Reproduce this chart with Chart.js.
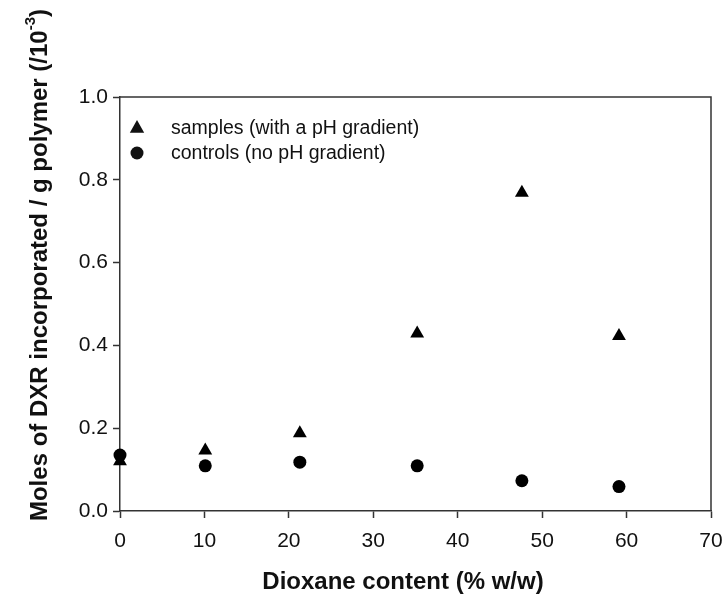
<!DOCTYPE html>
<html>
<head>
<meta charset="utf-8">
<script src="https://cdn.jsdelivr.net/npm/chart.js@4/dist/chart.umd.min.js"></script>
<style>
  html, body { margin: 0; padding: 0; background: #fff; }
</style>
</head>
<body>
<canvas id="myChart" width="726" height="595"></canvas>
<script>
// values
const dioxane = [0, 10.1, 21.3, 35.2, 47.6, 59.1];
const samples = [0.120, 0.146, 0.188, 0.429, 0.769, 0.423];
const controls = [0.135, 0.109, 0.118, 0.109, 0.073, 0.059];
const seriesNames = ['samples (with a pH gradient)', 'controls (no pH gradient)'];
const xTicks = [0, 10, 20, 30, 40, 50, 60, 70];
const yTicks = [0.0, 0.2, 0.4, 0.6, 0.8, 1.0];
const xTitle = 'Dioxane content (% w/w)';
const yTitle = ['Moles of DXR incorporated / g polymer (/10', '-3', ')'];

const FONT = "'Liberation Sans', Arial, Helvetica, sans-serif";
const INK = '#111';
const LINE = '#333';

function pts(ys) {
  return dioxane.map((x, i) => ({ x: x, y: ys[i] }));
}

// box round the plot, custom legend, axis titles
const extras = {
  id: 'extras',
  beforeDatasetsDraw(chart) {
    const a = chart.chartArea;
    const ctx = chart.ctx;
    ctx.save();
    ctx.strokeStyle = LINE;
    ctx.lineWidth = 1.5;
    ctx.beginPath();
    ctx.moveTo(a.left, a.top);
    ctx.lineTo(a.right, a.top);
    ctx.lineTo(a.right, a.bottom);
    ctx.stroke();
    ctx.restore();
  },
  afterDraw(chart) {
    const ctx = chart.ctx;
    const a = chart.chartArea;
    ctx.save();
    ctx.fillStyle = INK;

    // legend (samples first, then controls)
    const order = [1, 0];
    ctx.font = '19.5px ' + FONT;
    ctx.textBaseline = 'middle';
    ctx.textAlign = 'left';
    order.forEach((di, row) => {
      const ds = chart.data.datasets[di];
      const cx = a.left + 17;
      const cy = a.top + 31 + row * 25;
      ctx.beginPath();
      if (ds.pointStyle === 'triangle') {
        const r = 8;
        ctx.moveTo(cx, cy - r);
        ctx.lineTo(cx + r * 0.9, cy + r * 0.6);
        ctx.lineTo(cx - r * 0.9, cy + r * 0.6);
        ctx.closePath();
      } else {
        ctx.arc(cx, cy, 6.5, 0, Math.PI * 2);
      }
      ctx.fill();
      ctx.fillText(ds.label, a.left + 51, cy + 1);
    });

    // x title
    ctx.font = 'bold 24px ' + FONT;
    ctx.textAlign = 'center';
    ctx.fillText(xTitle, 403, 582);

    // y title with superscript
    ctx.translate(40, 265);
    ctx.rotate(-Math.PI / 2);
    ctx.textAlign = 'left';
    const mainFont = 'bold 24px ' + FONT;
    const supFont = 'bold 15px ' + FONT;
    ctx.font = mainFont;
    const w1 = ctx.measureText(yTitle[0]).width;
    const w3 = ctx.measureText(yTitle[2]).width;
    ctx.font = supFont;
    const w2 = ctx.measureText(yTitle[1]).width;
    let x0 = -(w1 + w2 + w3) / 2;
    ctx.font = mainFont;
    ctx.fillText(yTitle[0], x0, 0);
    ctx.font = supFont;
    ctx.fillText(yTitle[1], x0 + w1, -9);
    ctx.font = mainFont;
    ctx.fillText(yTitle[2], x0 + w1 + w2, 0);
    ctx.restore();
  }
};

const ctx = document.getElementById('myChart').getContext('2d');
const myChart = new Chart(ctx, {
  type: 'scatter',
  data: {
    datasets: [
      {
        label: seriesNames[1],
        data: pts(controls),
        pointStyle: 'circle',
        pointRadius: 6.5,
        pointHoverRadius: 6.5,
        backgroundColor: '#000',
        borderColor: '#000',
        borderWidth: 0,
        clip: false
      },
      {
        label: seriesNames[0],
        data: pts(samples),
        pointStyle: 'triangle',
        pointRadius: 8,
        pointHoverRadius: 8,
        backgroundColor: '#000',
        borderColor: '#000',
        borderWidth: 0,
        clip: false
      }
    ]
  },
  options: {
    responsive: false,
    animation: false,
    devicePixelRatio: 1,
    layout: { padding: { top: 97, right: 15, left: 0, bottom: 0 } },
    plugins: {
      legend: { display: false },
      tooltip: { enabled: false }
    },
    scales: {
      x: {
        type: 'linear',
        min: 0,
        max: 70,
        afterFit: s => { s.height = 84; s.paddingLeft = 0; s.paddingRight = 0; },
        afterBuildTicks: s => { s.ticks = xTicks.map(v => ({ value: v })); },
        grid: { drawOnChartArea: false, drawTicks: true, tickLength: 7, tickColor: LINE, tickWidth: 1.5 },
        border: { display: true, color: LINE, width: 1.5 },
        ticks: {
          color: INK,
          font: { family: FONT, size: 21 },
          padding: 11,
          maxRotation: 0,
          callback: v => String(v)
        }
      },
      y: {
        type: 'linear',
        min: 0,
        max: 1,
        afterFit: s => { s.width = 120; s.paddingTop = 0; s.paddingBottom = 0; },
        afterBuildTicks: s => { s.ticks = yTicks.map(v => ({ value: v })); },
        grid: { drawOnChartArea: false, drawTicks: true, tickLength: 7, tickColor: LINE, tickWidth: 1.5 },
        border: { display: true, color: LINE, width: 1.5 },
        ticks: {
          color: INK,
          font: { family: FONT, size: 21 },
          padding: 5,
          callback: v => Number(v).toFixed(1)
        }
      }
    }
  },
  plugins: [extras]
});
</script>
</body>
</html>
